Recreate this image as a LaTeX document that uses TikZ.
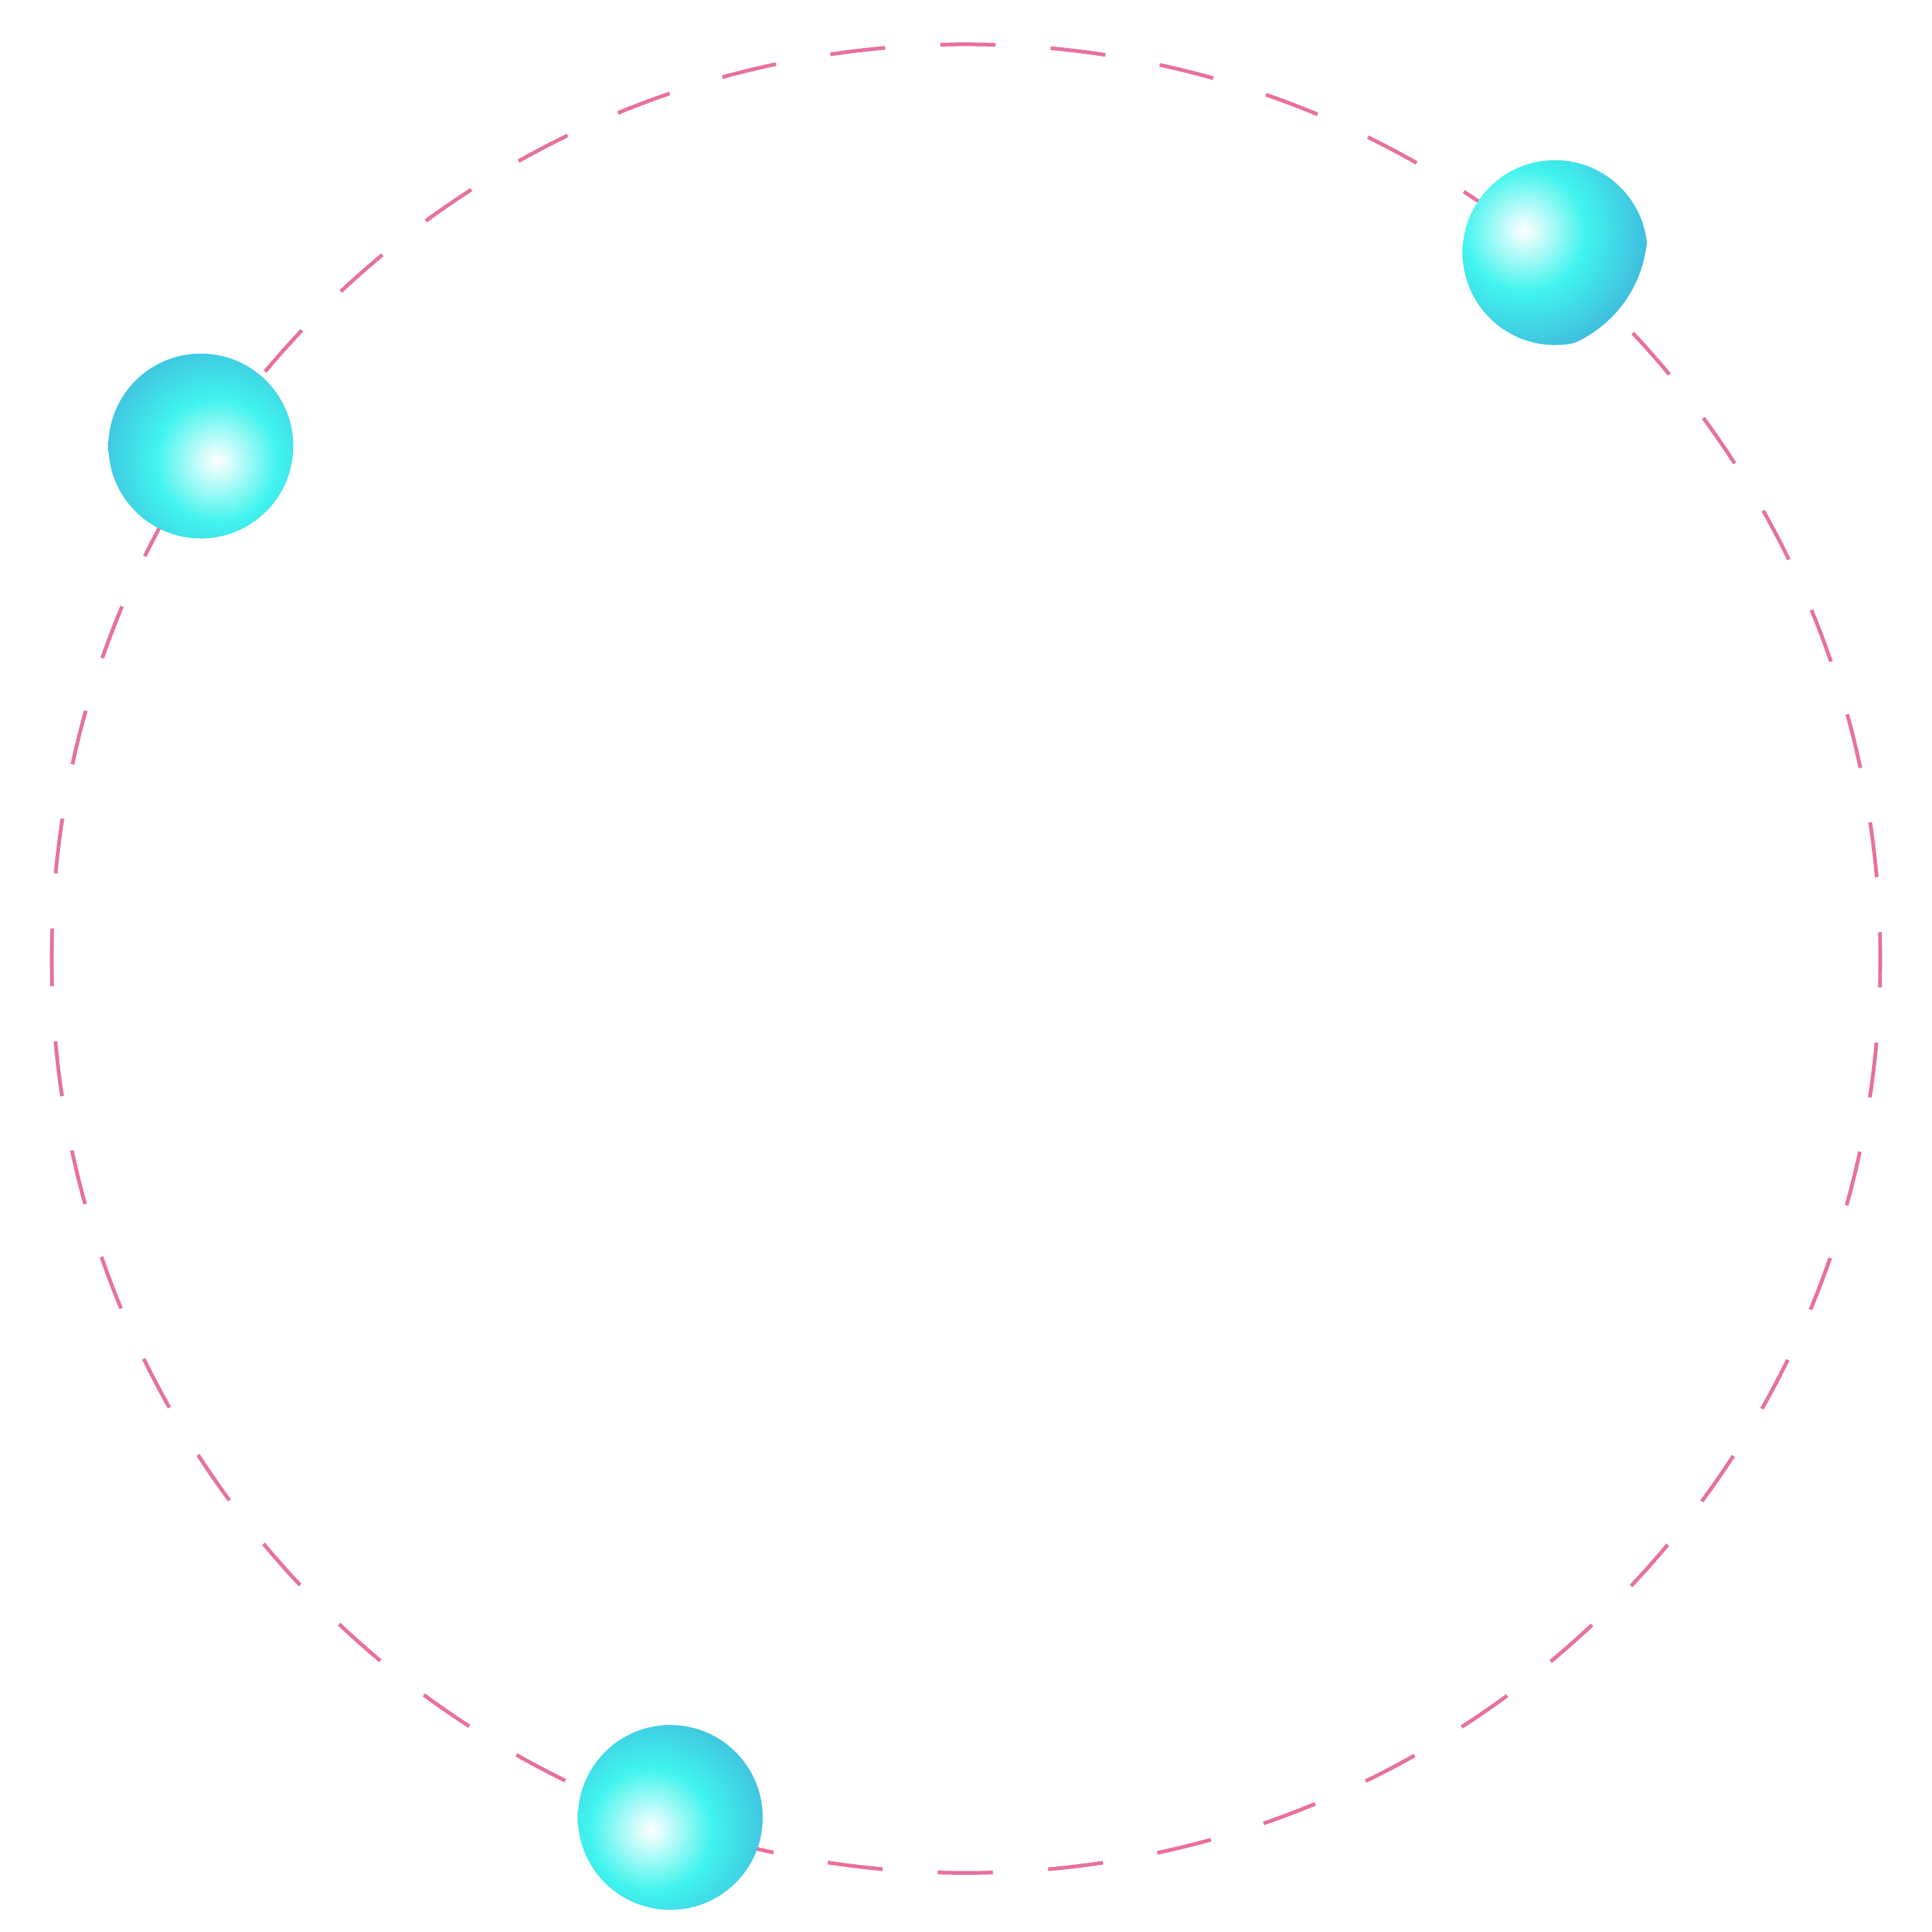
\documentclass[tikz,border=0pt]{standalone}
\usetikzlibrary{calc}
\definecolor{ring}{HTML}{E8709E}
\definecolor{ballblue}{HTML}{40A8D8}
\definecolor{ballcyan}{HTML}{40F4EE}
\pgfdeclareradialshading{ballshade}{\pgfpoint{0bp}{0bp}}{color(0bp)=(white); color(12.5bp)=(ballcyan); color(30bp)=(ballblue); color(50bp)=(ballblue)}
\tikzset{ringline/.style={draw=ring,line width=3pt,dash pattern=on 44.8pt off 44.83pt,dash phase=22.4pt}}
\newcommand{\myball}[4]{%
  \coordinate (#1) at (#2);
  \begin{scope}
    \clip (#1) circle (75);
    \shade[shading=ballshade] ($(#1)+(#3)$) circle (100);
  \end{scope}}
\begin{document}
\begin{tikzpicture}[x=1pt,y=-1pt]
\useasboundingbox (0,0) rectangle (1568,1568);
\fill[white] (0,0) rectangle (1568,1568);
\coordinate (c) at (784,778);
\draw[ringline] ($(c)+(-742,0)$) arc[start angle=180,end angle=-180,radius=742];
\myball{b1}{1262,205}{-25,-18}{}
\myball{b2}{163,362}{13,12}{}
\myball{b3}{544,1475}{-16,10}{}
\end{tikzpicture}
\end{document}
